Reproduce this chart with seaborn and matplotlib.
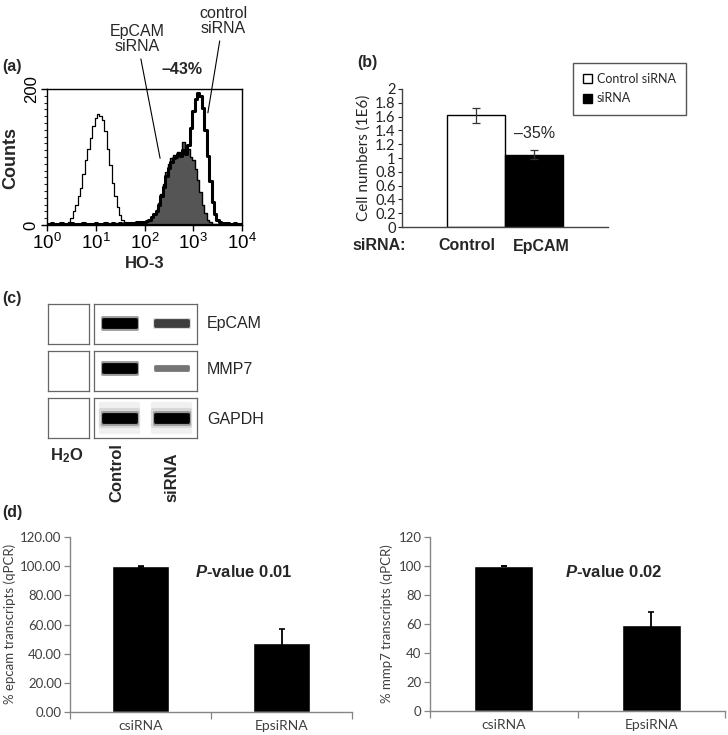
import numpy as np
import pandas as pd
import seaborn as sns
import matplotlib
matplotlib.use("Agg")
import matplotlib.pyplot as plt
from matplotlib.ticker import MultipleLocator, LogLocator, NullFormatter

W, H = 728, 735

# (a) flow cytometry, HO-3 staining (counts per log10 bin)
ho3_log = np.round(np.arange(0, 4.001, 0.05), 2)
isotype_counts = [1, 1, 1, 1, 1, 1, 1, 1, 2,
                  4, 10, 20, 30, 42, 55, 75, 96, 112, 128, 145, 157, 163, 160,
                  154, 138, 112, 88, 62, 42, 26, 14, 8, 4, 3,
                  2, 2, 2, 2, 2, 2,
                  1, 1, 1, 1, 1, 1, 1, 1, 1, 1, 1, 1, 1, 1, 1, 1, 1, 1, 1, 1, 1,
                  1, 1, 1, 1, 1, 1, 1, 1, 1, 1, 1, 1, 1, 1, 1, 1, 1, 1, 1, 1]
epcam_si_counts = [1, 2, 1, 2, 2, 1, 2, 2, 1, 2, 2, 1, 2, 2, 1, 2, 1, 2, 2, 1,
                   2, 2, 1, 2, 2, 3, 2, 2, 3, 2, 2, 3, 3, 2, 3, 3, 3, 4,
                   4, 5, 5, 6, 8, 12, 16, 22, 32, 45, 60, 78, 90, 98, 103, 102,
                   108, 104, 122, 108, 112, 100, 95, 82, 66, 48, 30, 18, 8, 4, 2,
                   2, 1, 2, 1, 1, 2, 1, 1, 2, 1, 1, 1]
control_si_counts = [2, 2, 3, 2, 2, 2, 3, 2, 2, 2, 3, 2, 2, 2, 2, 3, 2, 2, 2, 2,
                     3, 2, 2, 2, 3, 2, 2, 3, 2, 2, 3, 2, 3, 3, 2, 3, 3, 4,
                     4, 5, 5, 6, 8, 12, 16, 21, 30, 42, 56, 72, 84, 92, 98, 100,
                     104, 102, 110, 104, 118, 142, 168, 185, 194, 190, 172, 140,
                     102, 64, 34, 16, 8, 5, 3,
                     2, 3, 2, 2, 3, 2, 2, 2]

# (b) cell numbers (1E6)
cell_groups = ["Control siRNA", "siRNA"]
cell_numbers = [1.62, 1.05]
cell_err = [0.11, 0.06]
cell_ticks = ["0", "0.2", "0.4", "0.6", "0.8", "1", "1.2", "1.4", "1.6", "1.8", "2"]

# (c) RT-PCR band intensities (relative)
gel_genes = ["EpCAM", "MMP7", "GAPDH"]
band_control = [1.0, 1.0, 1.0]
band_sirna = [0.6, 0.35, 1.0]

# (d) qPCR
qpcr_groups = ["csiRNA", "EpsiRNA"]
epcam_pct = [100.0, 47.5]
epcam_err = [0.3, 9.5]
mmp7_pct = [100.0, 59.0]
mmp7_err = [0.3, 9.0]

sns.set_style("ticks")
plt.rcParams["font.family"] = ["Liberation Sans", "DejaVu Sans"]
plt.rcParams.update({
    "mathtext.fontset": "custom",
    "mathtext.rm": "Liberation Sans",
    "mathtext.it": "Liberation Sans:italic",
    "mathtext.bf": "Liberation Sans:bold",
    "mathtext.bfit": "Liberation Sans:italic:bold",
})

fig = plt.figure(figsize=(W / 100, H / 100), dpi=100)


def px_axes(l, t, r, b):
    return fig.add_axes([l / W, 1 - b / H, (r - l) / W, (b - t) / H])


def px_text(x, y, s, **kw):
    return fig.text(x / W, 1 - y / H, s, **kw)


# ---------------- (a)
ax = px_axes(47, 89, 242, 225)
xs = 10 ** ho3_log
ax.fill_between(xs, epcam_si_counts, step="mid", color="#555555", lw=0)
sns.lineplot(x=xs, y=epcam_si_counts, ax=ax, color="black", lw=1.0, drawstyle="steps-mid")
sns.lineplot(x=xs, y=isotype_counts, ax=ax, color="black", lw=0.9, drawstyle="steps-mid")
sns.lineplot(x=xs, y=control_si_counts, ax=ax, color="black", lw=2.2, drawstyle="steps-mid")
ax.set_xscale("log")
ax.set_xlim(1, 1e4)
ax.set_ylim(0, 200)
ax.set_xticks([1, 10, 100, 1000, 10000],
              [r"$10^{0}$", r"$10^{1}$", r"$10^{2}$", r"$10^{3}$", r"$10^{4}$"])
ax.xaxis.set_minor_locator(LogLocator(base=10, subs=range(2, 10)))
ax.xaxis.set_minor_formatter(NullFormatter())
ax.set_yticks([0, 200], ["0", "200"])
for t in ax.get_yticklabels():
    t.set_rotation(90)
    t.set_va("center")
ax.yaxis.set_minor_locator(MultipleLocator(10))
ax.tick_params(which="major", direction="out", length=4, width=1, labelsize=12, pad=2, colors="black")
ax.tick_params(axis="x", which="major", labelsize=13.5)
ax.tick_params(which="minor", direction="out", length=2.5, width=0.8)
for s in ax.spines.values():
    s.set_visible(True)
    s.set_linewidth(1)
    s.set_color("black")
ax.set_xlabel("HO-3", fontweight="bold", fontsize=12)
ax.set_ylabel("Counts", fontweight="bold", fontsize=13)
ax.xaxis.set_label_coords(145 / W, 1 - 263 / H, transform=fig.transFigure)
ax.yaxis.set_label_coords(11 / W, 1 - 158 / H, transform=fig.transFigure)
ax.xaxis.label.set_va("center")
ax.yaxis.label.set_va("center")

ax.annotate("EpCAM\nsiRNA", xy=(10 ** 2.32, 98), xytext=(137 / W, 1 - 39 / H),
            textcoords="figure fraction", ha="center", va="center", fontsize=11.5,
            linespacing=1.05, annotation_clip=False,
            arrowprops=dict(arrowstyle="-", color="black", lw=0.8, shrinkA=1, shrinkB=0))
ax.annotate("control\nsiRNA", xy=(10 ** 3.30, 165), xytext=(223 / W, 1 - 21 / H),
            textcoords="figure fraction", ha="center", va="center", fontsize=11.5,
            linespacing=1.05, annotation_clip=False,
            arrowprops=dict(arrowstyle="-", color="black", lw=0.8, shrinkA=1, shrinkB=0))
px_text(182, 70, "\u201343%", fontweight="bold", fontsize=11.5, ha="center", va="center")
px_text(2, 67, "(a)", fontweight="bold", fontsize=11.5, ha="left", va="center")

# ---------------- (b)
axb = px_axes(402, 89, 608, 227)
df_b = pd.DataFrame({"cat": ["siRNA"] * 2, "group": cell_groups, "value": cell_numbers})
sns.barplot(data=df_b, x="cat", y="value", hue="group", palette=["white", "black"],
            width=0.56, edgecolor="black", linewidth=1, saturation=1,
            errorbar=None, ax=axb)
centers = [bar.get_x() + bar.get_width() / 2 for c in axb.containers for bar in c]
axb.errorbar(centers, cell_numbers, yerr=cell_err, fmt="none", ecolor="#333333",
             elinewidth=0.9, capsize=3, capthick=0.9)
axb.set_xlim(-0.5, 0.5)
axb.set_ylim(0, 2)
axb.set_yticks(np.linspace(0, 2, 11), cell_ticks, fontfamily="Lato", fontsize=10.5)
axb.set_xticks([])
axb.set_xlabel("")
axb.set_ylabel("Cell numbers (1E6)", fontfamily="Lato", fontsize=11)
axb.yaxis.set_label_coords(364 / W, 1 - 158 / H, transform=fig.transFigure)
axb.yaxis.label.set_va("center")
axb.tick_params(axis="y", direction="out", length=3, width=0.8, pad=1.5, colors="#222222")
sns.despine(ax=axb)
for s in ["left", "bottom"]:
    axb.spines[s].set_color("#444444")
    axb.spines[s].set_linewidth(1)
handles, labels = axb.get_legend_handles_labels()
axb.legend(handles, labels, loc="upper left", bbox_to_anchor=(573 / W, 1 - 63 / H),
           bbox_transform=fig.transFigure, borderaxespad=0, frameon=True, fancybox=False,
           edgecolor="#555555", framealpha=1, prop={"family": "Lato", "size": 9},
           handlelength=0.7, handleheight=0.7, handletextpad=0.4, borderpad=0.8,
           labelspacing=0.6)
axb.get_legend().get_frame().set_linewidth(1)
px_text(535, 134, "\u201335%", fontsize=11.5, ha="center", va="center")
px_text(352, 246, "siRNA:", fontweight="bold", fontsize=11.5, ha="left", va="center")
px_text(467, 246, "Control", fontweight="bold", fontsize=11.5, ha="center", va="center")
px_text(541, 246, "EpCAM", fontweight="bold", fontsize=11.5, ha="center", va="center")
px_text(357, 62, "(b)", fontweight="bold", fontsize=11.5, ha="left", va="center")

# ---------------- (c)
rows = [(304, 344, 0.53), (351, 391, 0.57), (398, 438, 0.5)]
for gene, ctl, si, (top, bot, yc) in zip(gel_genes, band_control, band_sirna, rows):
    for l, r in [(48, 89), (94, 197)]:
        axg = px_axes(l, top, r, bot)
        axg.set_xlim(0, 2)
        axg.set_ylim(0, 1)
        axg.set_xticks([])
        axg.set_yticks([])
        for s in axg.spines.values():
            s.set_visible(True)
            s.set_color("#666666")
            s.set_linewidth(0.9)
    if gene == "GAPDH":
        axg.bar([0.5, 1.5], 0.7, bottom=yc - 0.35, width=0.72, color="#f0f0f0",
                edgecolor="#f0f0f0", lw=3, joinstyle="round")
        axg.bar([0.5, 1.5], 0.42, bottom=yc - 0.21, width=0.72, color="#d8d8d8",
                edgecolor="#d8d8d8", lw=3, joinstyle="round")
    for x0, inten in [(0.5, ctl), (1.5, si)]:
        h = 0.08 + 0.16 * inten
        grey = 0.8 * (1 - inten) ** 1.3
        soft = str(min(1, grey + 0.6))
        axg.bar(x0, h * 1.2, bottom=yc - h * 0.6, width=0.68, color=soft,
                edgecolor=soft, lw=2, joinstyle="round")
        axg.bar(x0, h * 0.8, bottom=yc - h * 0.4, width=0.64, color=str(grey),
                edgecolor=str(grey), lw=2, joinstyle="round")
    px_text(207, (top + bot) / 2 + (yc - 0.5) * -40 + 1, gene, fontsize=11.5, ha="left", va="center")
px_text(67, 456, r"H$_{\mathbf{2}}$O", fontweight="bold", fontsize=12, ha="center", va="center")
px_text(116.5, 502, "Control", fontweight="bold", fontsize=12, rotation=90, ha="center", va="bottom")
px_text(172, 502, "siRNA", fontweight="bold", fontsize=12, rotation=90, ha="center", va="bottom")
px_text(2, 298, "(c)", fontweight="bold", fontsize=11.5, ha="left", va="center")

# ---------------- (d)
panels = [
    ((70, 537, 352, 712), epcam_pct, epcam_err, "% epcam transcripts (qPCR)", "%.2f", 10, 243.5, "0.01"),
    ((430, 537, 725, 711), mmp7_pct, mmp7_err, "% mmp7 transcripts (qPCR)", "%d", 387, 613.5, "0.02"),
]
for box, vals, errs, ylab, fmt, ylab_x, p_x, pval in panels:
    axd = px_axes(*box)
    df_d = pd.DataFrame({"group": qpcr_groups, "pct": vals})
    sns.barplot(data=df_d, x="group", y="pct", color="black", width=0.4,
                saturation=1, errorbar=None, ax=axd)
    axd.errorbar([0, 1], vals, yerr=errs, fmt="none", ecolor="black",
                 elinewidth=1.3, capsize=2.5, capthick=1.2)
    axd.set_xlim(-0.5, 1.5)
    axd.set_ylim(0, 120)
    yt = np.arange(0, 121, 20)
    axd.set_yticks(yt, [fmt % v for v in yt], fontfamily="Lato", fontsize=9.5)
    axd.set_xticks([0, 1], qpcr_groups, fontfamily="Lato", fontsize=10)
    axd.set_xticks([-0.5, 0.5, 1.5], minor=True)
    axd.tick_params(axis="x", which="major", length=0, pad=6, labelcolor="#404040")
    axd.tick_params(axis="x", which="minor", direction="out", length=5, width=0.9, color="#868686")
    axd.tick_params(axis="y", direction="out", length=4, width=0.9, color="#868686",
                    labelcolor="#404040", pad=2)
    axd.set_xlabel("")
    axd.set_ylabel(ylab, fontfamily="Lato", fontsize=9.5, color="#404040")
    axd.yaxis.set_label_coords(ylab_x / W, 1 - 624 / H, transform=fig.transFigure)
    axd.yaxis.label.set_va("center")
    sns.despine(ax=axd)
    for s in ["left", "bottom"]:
        axd.spines[s].set_color("#868686")
        axd.spines[s].set_linewidth(1)
    px_text(p_x, 572, r"$\mathbfit{P}$-value " + pval, fontweight="bold", fontsize=12,
            ha="center", va="center")
px_text(2, 512, "(d)", fontweight="bold", fontsize=11.5, ha="left", va="center")

fig.savefig("out.png", dpi=100, facecolor="white")
